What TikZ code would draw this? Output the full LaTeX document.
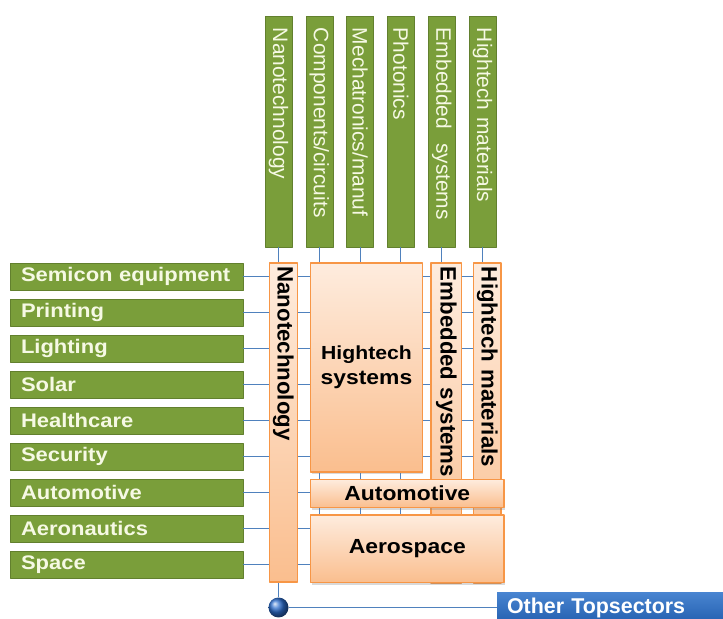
\documentclass[tikz,border=0pt]{standalone}
\usepackage{fontspec}
\setmainfont{Liberation Sans}
\newfontfamily\widefont[FakeStretch=1.12]{Liberation Sans}
\usetikzlibrary{shapes,shadows}

\definecolor{greenfill}{RGB}{122,158,58}
\definecolor{greenline}{RGB}{98,128,46}
\definecolor{greentext}{RGB}{246,249,228}
\definecolor{orangeline}{RGB}{247,150,70}
\definecolor{orangetop}{RGB}{254,236,222}
\definecolor{orangebot}{RGB}{250,190,142}
\definecolor{linkblue}{RGB}{79,129,189}
\definecolor{ballblue}{RGB}{45,110,205}
\definecolor{othertop}{RGB}{72,132,208}
\definecolor{otherbot}{RGB}{36,96,176}

\tikzset{
  colbox/.style={draw=greenline, fill=greenfill, text=greentext, rotate=-90,
    minimum height=27bp, inner xsep=12bp, inner ysep=0bp, text width=207bp,
    align=left, font=\fontsize{21}{22}\selectfont},
  rowbox/.style={draw=greenline, fill=greenfill, text=greentext,
    minimum height=27bp, inner xsep=11bp, inner ysep=0bp, text width=211bp,
    align=left, font=\widefont\bfseries\fontsize{19.7}{20}\selectfont},
  ovbox/.style={draw=orangeline, line width=1.5bp, top color=orangetop,
    bottom color=orangebot, rotate=-90, inner xsep=3.5bp, inner ysep=0bp,
    text width=312bp, align=left, font=\bfseries\fontsize{22.3}{23}\selectfont},
  ohbox/.style={draw=orangeline, line width=1.5bp, top color=orangetop,
    bottom color=orangebot, inner sep=0bp, align=center,
    drop shadow={shadow xshift=1bp, shadow yshift=-2bp, opacity=.3},
    font=\widefont\bfseries\fontsize{20.5}{25}\selectfont},
  link/.style={draw=linkblue, line width=1bp},
}

\begin{document}
\begin{tikzpicture}[line join=bevel]
\useasboundingbox (0bp,0bp) rectangle (723bp,619bp);

% Node: topics
\node[colbox, minimum width=231bp] (nano) at (278.5bp,487.5bp) {Nanotechnology};
\node[colbox, minimum width=231bp] (comp) at (319.3bp,487.5bp) {Components/circuits};
\node[colbox, minimum width=231bp] (mech) at (360.1bp,487.5bp) {Mechatronics/manuf};
\node[colbox, minimum width=231bp] (phot) at (400.9bp,487.5bp) {Photonics};
\node[colbox, minimum width=231bp] (emb) at (441.7bp,487.5bp) {Embedded\ \ systems};
\node[colbox, minimum width=231bp] (hmat) at (482.5bp,487.5bp) {Hightech materials};

% Node: markets
\node[rowbox] (semi) at (126.5bp,342.5bp) {Semicon equipment};
\node[rowbox] (print) at (126.5bp,306.5bp) {Printing};
\node[rowbox] (light) at (126.5bp,270.5bp) {Lighting};
\node[rowbox] (solar) at (126.5bp,234.5bp) {Solar};
\node[rowbox] (health) at (126.5bp,198.5bp) {Healthcare};
\node[rowbox] (secur) at (126.5bp,162.5bp) {Security};
\node[rowbox] (auto) at (126.5bp,126.5bp) {Automotive};
\node[rowbox] (aero) at (126.5bp,90.5bp) {Aeronautics};
\node[rowbox] (space) at (126.5bp,54.5bp) {Space};

% Node: hub and other
\shade[ball color=ballblue] (278.5bp,11.5bp) circle (10bp);
\node[circle, minimum size=20bp, inner sep=0bp] (hub) at (278.5bp,11.5bp) {};
\node[top color=othertop, bottom color=otherbot, text=white, minimum height=30bp,
  inner xsep=10bp, text width=220bp, align=left,
  font=\bfseries\fontsize{21.5}{22}\selectfont] (other) at (617bp,11.3bp) {Other Topsectors};

% Edge: topics -> grid
\draw[link] (nano.east) -- (hub);
\draw[link] (comp.east) -- (comp.east |- space.east);
\draw[link] (mech.east) -- (mech.east |- space.east);
\draw[link] (phot.east) -- (phot.east |- space.east);
\draw[link] (emb.east) -- (emb.east |- space.east);
\draw[link] (hmat.east) -- (hmat.east |- space.east);

% Edge: markets -> grid
\draw[link] (semi.east) -- (semi.east -| hmat.east);
\draw[link] (print.east) -- (print.east -| hmat.east);
\draw[link] (light.east) -- (light.east -| hmat.east);
\draw[link] (solar.east) -- (solar.east -| hmat.east);
\draw[link] (health.east) -- (health.east -| hmat.east);
\draw[link] (secur.east) -- (secur.east -| hmat.east);
\draw[link] (auto.east) -- (auto.east -| hmat.east);
\draw[link] (aero.east) -- (aero.east -| hmat.east);
\draw[link] (space.east) -- (space.east -| hmat.east);

% Edge: hub -> other
\draw[link] (hub) -- (hub -| other.west);

% Node: clusters
\node[ovbox, minimum width=319bp, minimum height=28bp] (onano) at (283.3bp,196.5bp) {Nanotechnology};
\node[ohbox, minimum width=111.6bp, minimum height=209bp] (hsys) at (366.5bp,251.5bp)
  {\fontsize{19}{25}\selectfont Hightech\\systems};
\node[ovbox, minimum width=320bp, minimum height=30.7bp] (oemb) at (446.3bp,196bp) {Embedded systems};
\node[ovbox, minimum width=320bp, minimum height=27.7bp] (omat) at (487.2bp,196bp) {Hightech materials};
\node[ohbox, minimum width=193.3bp, minimum height=28.4bp] (oauto) at (407.3bp,125.5bp) {Automotive};
\node[ohbox, minimum width=193.3bp, minimum height=67.7bp] (oaero) at (407.3bp,70.2bp) {Aerospace};
%
\end{tikzpicture}
\end{document}
